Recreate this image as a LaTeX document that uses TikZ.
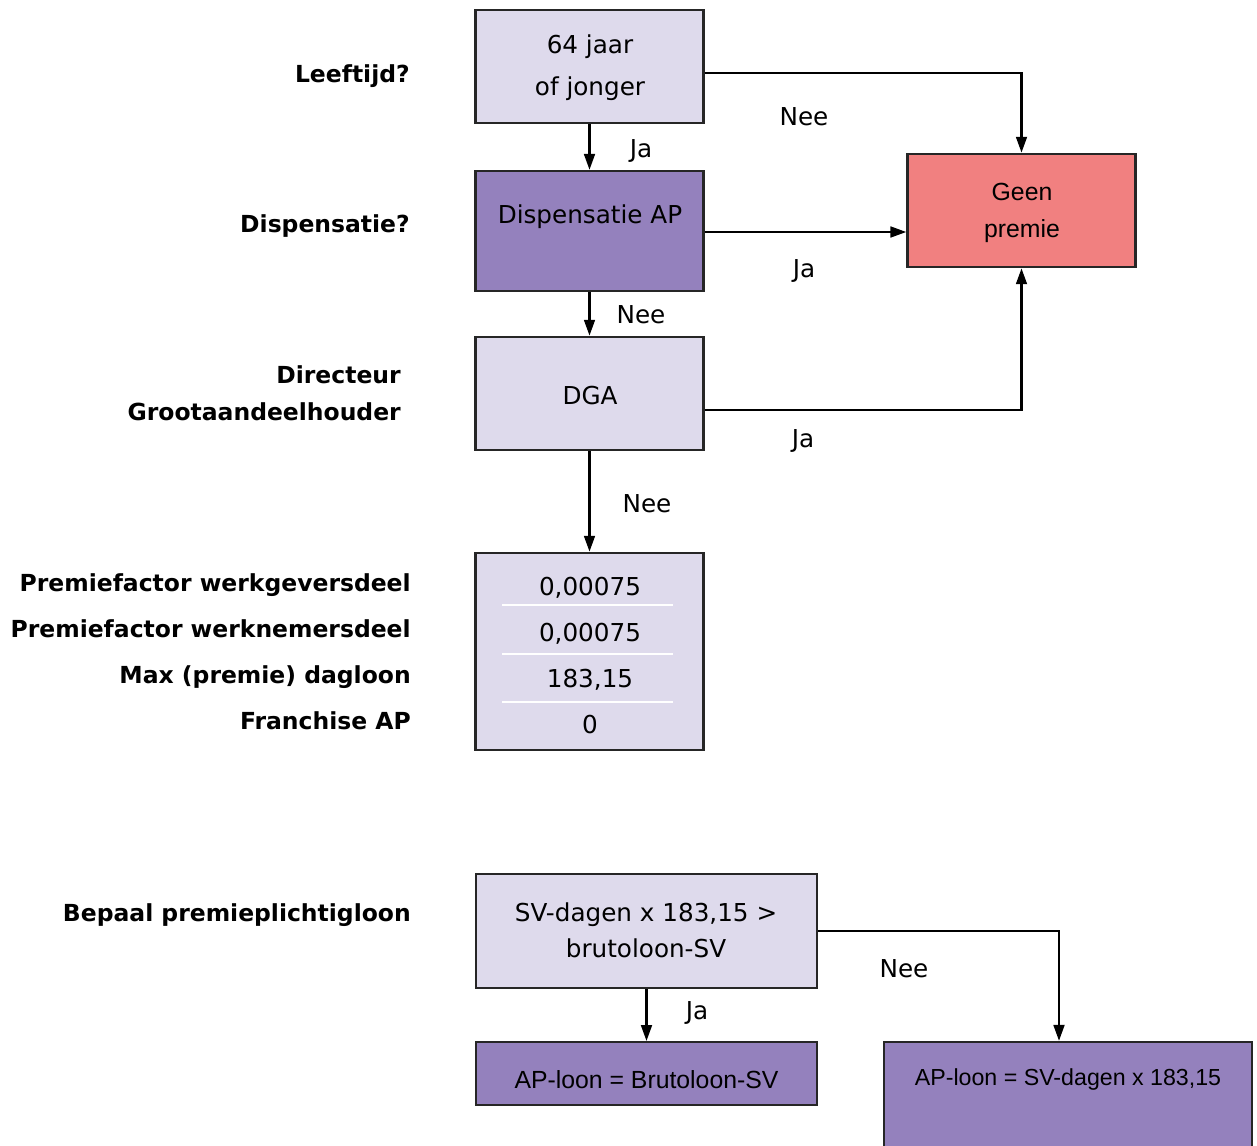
\documentclass[tikz,border=0pt]{standalone}
\usepackage{fontspec}
\setmainfont{DejaVu Sans}
\newfontfamily\arialf{Liberation Sans}
\usetikzlibrary{arrows.meta}
\definecolor{lightbox}{RGB}{222,218,236}
\definecolor{darkbox}{RGB}{148,129,189}
\definecolor{redbox}{RGB}{241,128,128}
\tikzset{
  box/.style={draw=black!85, line width=1.6pt, rectangle},
  lbox/.style={box, fill=lightbox},
  dbox/.style={box, fill=darkbox},
  rbox/.style={box, fill=redbox},
  txt/.style={font=\fontsize{18.5pt}{22pt}\selectfont, inner sep=0pt, anchor=base},
  atxt/.style={font=\arialf\fontsize{18.6pt}{22pt}\selectfont, inner sep=0pt, anchor=base},
  lbl/.style={font=\bfseries\fontsize{17.6pt}{21pt}\selectfont, inner sep=0pt, anchor=base east},
  conn/.style={line width=2pt, -{Triangle[length=12pt,width=8pt]}},
  sep/.style={white, line width=1.3pt}
}
\begin{document}
\begin{tikzpicture}[x=0.75pt,y=-0.75pt]
\useasboundingbox (0,0) rectangle (1257,1146);
\clip (0,0) rectangle (1257,1146);
% boxes
\node[lbox, minimum width=171pt, minimum height=85pt] (b1) at (589.5,66.5) {};
\node[dbox, minimum width=171pt, minimum height=90pt] (b2) at (589.5,231) {};
\node[lbox, minimum width=171pt, minimum height=85pt] (b3) at (589.5,393.5) {};
\node[lbox, minimum width=171pt, minimum height=148pt] (b4) at (589.5,651.5) {};
\node[rbox, minimum width=171pt, minimum height=85pt] (gp) at (1021.5,210.5) {};
\node[lbox, minimum width=256pt, minimum height=85.5pt] (b5) at (646.5,931) {};
\node[dbox, minimum width=256pt, minimum height=47pt] (b6) at (646.5,1073.5) {};
\node[dbox, minimum width=276pt, minimum height=90pt] (b7) at (1068,1102) {};
% separators in b4
\coordinate (s1a) at (502,605); \coordinate (s1b) at (673,605);
\coordinate (s2a) at (502,654); \coordinate (s2b) at (673,654);
\coordinate (s3a) at (502,702); \coordinate (s3b) at (673,702);
\draw[sep] (s1a) -- (s1b);
\draw[sep] (s2a) -- (s2b);
\draw[sep] (s3a) -- (s3b);
% box texts
\node[txt] (t1a) at (590,53) {64 jaar};
\node[txt] (t1b) at (590,95) {of jonger};
\node[txt] (t2) at (590,223) {Dispensatie AP};
\node[txt] (t3) at (590,404) {DGA};
\node[txt] (t4a) at (590,595) {0,00075};
\node[txt] (t4b) at (590,641) {0,00075};
\node[txt] (t4c) at (590,687) {183,15};
\node[txt] (t4d) at (590,733) {0};
\node[atxt] (tga) at (1022,200) {Geen};
\node[atxt] (tgb) at (1022,237) {premie};
\node[txt] (t5a) at (646,921) {SV-dagen x 183,15 >};
\node[txt] (t5b) at (646,957) {brutoloon-SV};
\node[atxt] (t6) at (646.5,1088) {AP-loon = Brutoloon-SV};
\node[atxt, font=\arialf\fontsize{17.4pt}{21pt}\selectfont] (t7) at (1068,1085) {AP-loon = SV-dagen x 183,15};
% left labels
\node[lbl] (l1) at (410,82) {Leeftijd?};
\node[lbl] (l2) at (410,232) {Dispensatie?};
\node[lbl] (l3a) at (401,383) {Directeur};
\node[lbl] (l3b) at (401,420) {Grootaandeelhouder};
\node[lbl] (l4a) at (411,591) {Premiefactor werkgeversdeel};
\node[lbl] (l4b) at (411,637) {Premiefactor werknemersdeel};
\node[lbl] (l4c) at (411,683) {Max (premie) dagloon};
\node[lbl] (l4d) at (411,729) {Franchise AP};
\node[lbl] (l5) at (411,921) {Bepaal premieplichtigloon};
% connectors
\draw[conn] (b1.south) -- (b2.north);
\draw[conn] (b1.east |- 0,73) -| (gp.north);
\draw[conn] (b2.east |- 0,232) -- (gp.west |- 0,232);
\draw[conn] (b2.south) -- (b3.north);
\draw[conn] (b3.east |- 0,410) -| (gp.south);
\draw[conn] (b3.south) -- (b4.north);
\draw[conn] (b5.east |- 0,931) -| (1059,0 |- b7.north);
\draw[conn] (b5.south) -- (b6.north);
% connector labels
\node[txt] (c1) at (641,157) {Ja};
\node[txt] (c2) at (804,125) {Nee};
\node[txt] (c3) at (804,277) {Ja};
\node[txt] (c4) at (641,323) {Nee};
\node[txt] (c5) at (803,447) {Ja};
\node[txt] (c6) at (647,512) {Nee};
\node[txt] (c7) at (904,977) {Nee};
\node[txt] (c8) at (697,1019) {Ja};
\end{tikzpicture}
\end{document}
